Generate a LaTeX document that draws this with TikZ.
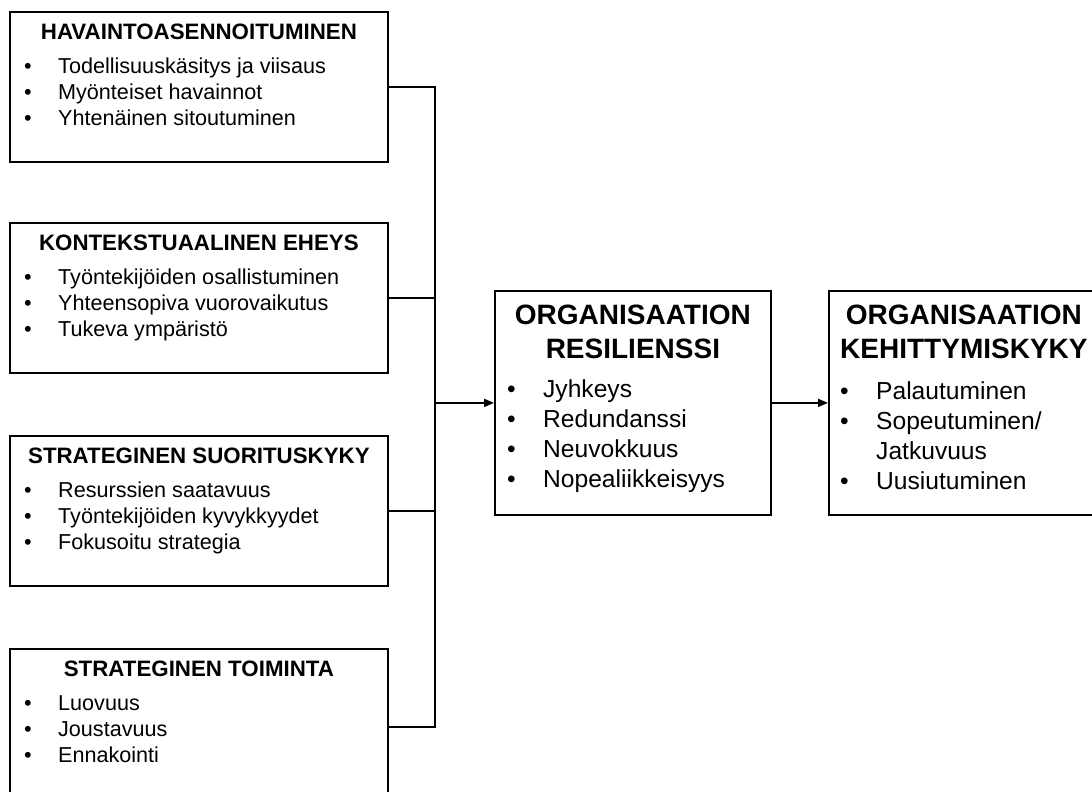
\documentclass[tikz,border=0pt]{standalone}
\usepackage{fontspec}
\setmainfont{Liberation Sans}
\usetikzlibrary{arrows.meta,calc}

% bullet line: dot, then the text at a fixed indent
\newcommand\bul[1]{\strut\makebox[\bulwd][l]{•}#1}
\newcommand\cont[1]{\strut\hspace*{\bulwd}#1}

\tikzset{
  box/.style={draw, line width=1.8pt, inner sep=0pt, anchor=north west},
  head/.style={font=\bfseries\fontsize{22.3}{26}\selectfont, inner sep=0pt, anchor=base},
  items/.style={font=\fontsize{21.6}{26}\selectfont\def\bulwd{34pt}, align=left,
    inner sep=0pt, anchor=north west},
  bighead/.style={font=\bfseries\fontsize{28}{33.5}\selectfont, align=center,
    inner sep=0pt, anchor=north},
  bigitems/.style={font=\fontsize{24.6}{30}\selectfont\def\bulwd{36pt}, align=left,
    inner sep=0pt, anchor=north west},
  conn/.style={line width=1.8pt},
  arr/.style={conn, -{Triangle[length=10pt,width=8pt]}}
}

\begin{document}
\begin{tikzpicture}[x=1pt,y=-1pt]
\clip (0,0) rectangle (1092,792);
\fill[white] (0,0) rectangle (1092,792);

% left column
\node[box, minimum width=378pt, minimum height=150pt] (hav) at (9,11) {};
\node[head] at ([yshift=-28.5pt]hav.north) {HAVAINTOASENNOITUMINEN};
\node[items] at ([xshift=15pt,yshift=-44pt]hav.north west)
  {\bul{Todellisuuskäsitys ja viisaus}\\\bul{Myönteiset havainnot}\\\bul{Yhtenäinen sitoutuminen}};

\node[box, minimum width=378pt, minimum height=150pt] (kon) at (9,222) {};
\node[head] at ([yshift=-28.5pt]kon.north) {KONTEKSTUAALINEN EHEYS};
\node[items] at ([xshift=15pt,yshift=-44pt]kon.north west)
  {\bul{Työntekijöiden osallistuminen}\\\bul{Yhteensopiva vuorovaikutus}\\\bul{Tukeva ympäristö}};

\node[box, minimum width=378pt, minimum height=150pt] (suo) at (9,435) {};
\node[head] at ([yshift=-28.5pt]suo.north) {STRATEGINEN SUORITUSKYKY};
\node[items] at ([xshift=15pt,yshift=-44pt]suo.north west)
  {\bul{Resurssien saatavuus}\\\bul{Työntekijöiden kyvykkyydet}\\\bul{Fokusoitu strategia}};

\node[box, minimum width=378pt, minimum height=156pt] (toi) at (9,648) {};
\node[head] at ([yshift=-28.5pt]toi.north) {STRATEGINEN TOIMINTA};
\node[items] at ([xshift=15pt,yshift=-44pt]toi.north west)
  {\bul{Luovuus}\\\bul{Joustavuus}\\\bul{Ennakointi}};

% middle and right
\node[box, minimum width=276pt, minimum height=224pt] (res) at (494,290) {};
\node[bighead] at ([yshift=-11pt]res.north) {\strut ORGANISAATION\\\strut RESILIENSSI};
\node[bigitems] at ([xshift=13pt,yshift=-86pt]res.north west)
  {\bul{Jyhkeys}\\\bul{Redundanssi}\\\bul{Neuvokkuus}\\\bul{Nopealiikkeisyys}};

\node[box, minimum width=270pt, minimum height=224pt] (keh) at (828,290) {};
\node[bighead] at ([yshift=-11pt]keh.north) {\strut ORGANISAATION\\\strut KEHITTYMISKYKY};
\node[bigitems] at ([xshift=12pt,yshift=-88pt]keh.north west)
  {\bul{Palautuminen}\\\bul{Sopeutuminen/}\\\cont{Jatkuvuus}\\\bul{Uusiutuminen}};

% connectors
\coordinate (busx) at (435,0);
\coordinate (bus) at (res.west -| busx);
\draw[conn] (hav.east) -| (bus) |- (toi.east);
\draw[conn] (kon.east) -- (kon.east -| bus);
\draw[conn] (suo.east) -- (suo.east -| bus);
\draw[arr] (bus) -- (res.west);
\draw[arr] (res.east) -- (keh.west);
\end{tikzpicture}
\end{document}
